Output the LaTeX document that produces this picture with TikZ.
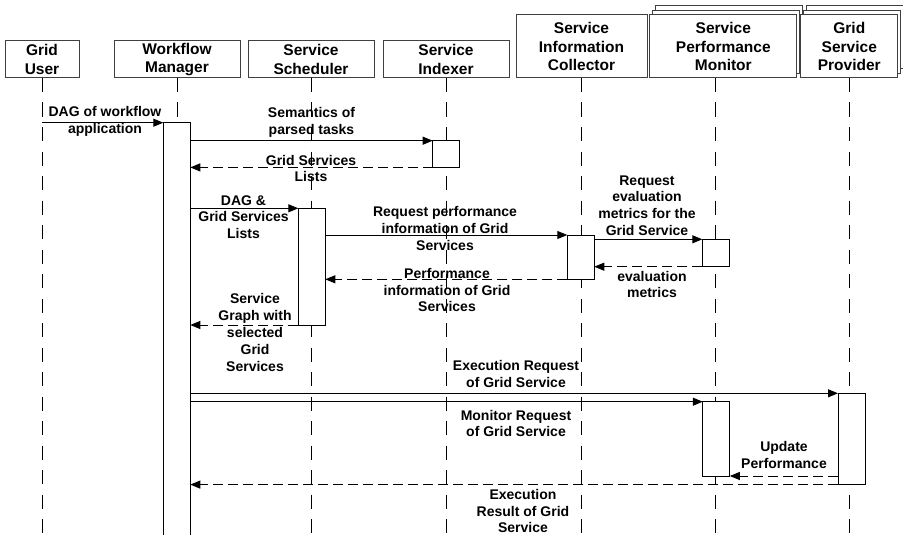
\documentclass[tikz,border=0pt]{standalone}
\usepackage{fontspec}
\setmainfont{Liberation Sans}
\usetikzlibrary{arrows.meta,shadows}
\begin{document}
\begin{tikzpicture}[x=1pt,y=-1pt,
  head/.style={draw=black!75, line width=1pt, fill=white, align=center,
    font=\fontsize{15.5}{18.5}\selectfont\bfseries, inner sep=0pt, outer sep=0pt},
  stack/.style={copy shadow={shadow xshift=5.6pt, shadow yshift=9pt, draw=black!75, line width=1pt, fill=white},
    copy shadow={shadow xshift=2.8pt, shadow yshift=4.5pt, draw=black!75, line width=1pt, fill=white}},
  life/.style={line width=1pt, dash pattern=on 14pt off 10.5pt},
  bar/.style={draw=black, line width=1pt, fill=white, minimum width=27pt,
    inner sep=0pt, outer sep=0pt, anchor=north west},
  msg/.style={line width=1pt, -{Triangle[length=10pt,width=8pt]}},
  reply/.style={msg, dash pattern=on 10pt off 5pt},
  lbl/.style={align=center, font=\fontsize{14}{16.8}\selectfont\bfseries, inner sep=0pt}]

\clip (0,0) rectangle (903,535);
\fill[white] (0,0) rectangle (903,535);

% participants
\node[head, minimum width=74pt, minimum height=37pt] (gu) at (42,59.5) {Grid\\User};
\node[head, minimum width=126pt, minimum height=37pt] (wm) at (177,59.5) {Workflow\\Manager};
\node[head, minimum width=126pt, minimum height=37pt] (ss) at (311,59.5) {Service\\Scheduler};
\node[head, minimum width=126pt, minimum height=37pt] (si) at (446,59.5) {Service\\Indexer};
\node[head, minimum width=131pt, minimum height=63pt] (sic) at (581.5,46.5) {Service\\Information\\Collector};
\node[head, stack, minimum width=146.7pt, minimum height=63pt] (spm) at (723.3,46.5) {Service\\Performance\\Monitor};
\node[head, stack, minimum width=97.3pt, minimum height=63pt] (gsp) at (849.3,46.5) {Grid\\Service\\Provider};

% lifelines
\coordinate (spmtop) at ([xshift=-8pt]spm.south);
\foreach \p in {gu.south, wm.south, ss.south, si.south, sic.south, spmtop, gsp.south}
  \draw[life] (\p) -- (\p |- 0,535);

% activation bars
\node[bar, minimum height=415pt] (wm1) at (163.3,122.7) {};
\node[bar, minimum height=26.7pt] (si1) at (432.7,140.7) {};
\node[bar, minimum height=116.7pt] (ss1) at (298.3,208.3) {};
\node[bar, minimum height=44.3pt] (sic1) at (567.3,235) {};
\node[bar, minimum height=27.4pt] (spm1) at (702.3,239.3) {};
\node[bar, minimum height=74.3pt] (spm2) at (702.8,401.7) {};
\node[bar, minimum height=91.3pt] (gsp1) at (838,393.3) {};

% messages
\draw[msg] (gu.south |- wm1.north west) -- (wm1.north west);
\draw[msg] (wm1.east |- si1.north west) -- (si1.north west);
\draw[reply] (si1.south west) -- (wm1.east |- si1.south west);
\draw[msg] (wm1.east |- ss1.north west) -- (ss1.north west);
\draw[msg] (ss1.east |- sic1.north west) -- (sic1.north west);
\draw[msg] (sic1.east |- spm1.north west) -- (spm1.north west);
\draw[reply] (spm1.south west) -- (sic1.east |- spm1.south west);
\draw[reply] (sic1.south west) -- (ss1.east |- sic1.south west);
\draw[reply] (ss1.south west) -- (wm1.east |- ss1.south west);
\draw[msg] (wm1.east |- gsp1.north west) -- (gsp1.north west);
\draw[msg] (wm1.east |- spm2.north west) -- (spm2.north west);
\draw[reply] (gsp1.west |- spm2.south east) -- (spm2.south east);
\draw[reply] (gsp1.south west) -- (wm1.east |- gsp1.south west);

% message labels
\node[lbl] (l1) at (105,121.3) {DAG of workflow\\application};
\node[lbl] (l2) at (311.5,122.5) {Semantics of\\parsed tasks};
\node[lbl] (l3) at (311,168.5) {Grid Services\\Lists};
\node[lbl] (l4) at (243.5,217) {DAG \&\\Grid Services\\Lists};
\node[lbl] (l5) at (445,228.5) {Request performance\\information of Grid\\Services};
\node[lbl] (l6) at (447,290) {Performance\\information of Grid\\Services};
\node[lbl] (l7) at (647,205.5) {Request\\evaluation\\metrics for the\\Grid Service};
\node[lbl] (l8) at (652,284.5) {evaluation\\metrics};
\node[lbl] (l9) at (255,332.5) {Service\\Graph with\\selected\\Grid\\Services};
\node[lbl] (l10) at (516,374) {Execution Request\\of Grid Service};
\node[lbl] (l11) at (516,423.5) {Monitor Request\\of Grid Service};
\node[lbl] (l12) at (784,455) {Update\\Performance};
\node[lbl] (l13) at (523,511) {Execution\\Result of Grid\\Service};
\end{tikzpicture}
\end{document}
